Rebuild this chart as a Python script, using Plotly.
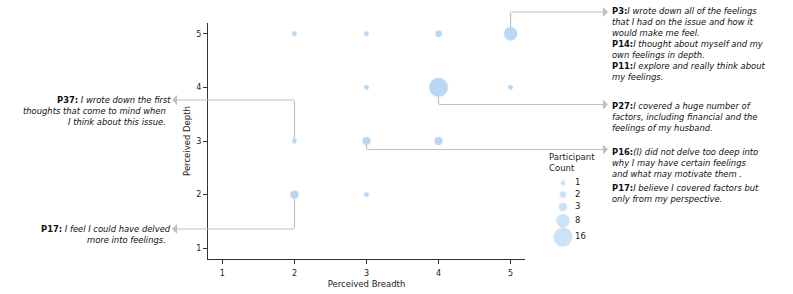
import plotly.graph_objects as go

# ---------------- data ----------------
breadth = [2, 3, 4, 5, 3, 4, 5, 2, 3, 4, 2, 3]
depth = [5, 5, 5, 5, 4, 4, 4, 3, 3, 3, 2, 2]
count = [1, 1, 2, 8, 1, 16, 1, 1, 3, 3, 3, 1]

legend_counts = [1, 2, 3, 8, 16]
x_ticks = [1, 2, 3, 4, 5]
y_ticks = [1, 2, 3, 4, 5]

# callouts: anchor point (breadth, depth) and quote lines
callout_anchor_b = [5, 4, 3, 2, 2]
callout_anchor_d = [5, 4, 3, 3, 2]
callout_side = ["right", "right", "right", "left", "left"]
callout_quotes = [
    [("P3:", ["I wrote down all of the feelings", "that I had on the issue and how it", "would make me feel."]),
     ("P14:", ["I thought about myself and my", "own feelings in depth."]),
     ("P11:", ["I explore and really think about", "my feelings."])],
    [("P27:", ["I covered a huge number of", "factors, including financial and the", "feelings of my husband."])],
    [("P16:", ["(I) did not delve too deep into", "why I may have certain feelings", "and what may motivate them ."]),
     ("P17:", ["I believe I covered factors but", "only from my perspective."])],
    [("P37:", [" I wrote down the first", "thoughts that come to mind when", "I think about this issue."])],
    [("P17:", [" I feel I could have delved", "more into feelings."])],
]

# ---------------- layout geometry (screen pixels) ----------------
FIG_W, FIG_H = 793, 294
PL, PR, PT, PB = 208, 525, 23, 259
XR = [0.8, 5.2]
YR = [0.8, 5.2]
FONT = "DejaVu Sans"
BLUE = "rgb(183,215,242)"
EDGE = "rgb(214,231,247)"
GRAY = "#c0c0c0"
SIZEREF = 2 * 16 / 19.0 ** 2
LINE_STEP = 11


def px2paper_x(X):
    return X / FIG_W


def px2paper_y(Y):
    return 1 - Y / FIG_H


def sx(v):
    return PL + (v - XR[0]) / (XR[1] - XR[0]) * (PR - PL)


def sy(v):
    return PB - (v - YR[0]) / (YR[1] - YR[0]) * (PB - PT)


def diam(c):
    return (2 * c / SIZEREF) ** 0.5


# connector elbows (screen y), arrow tip (screen x), text placement
elbow_y = [12, 104.5, 149.5, 100, 229]
tip_x = [608, 608, 608, 172, 172]
text_x = [611, 611, 611, 166.5, 166.5]
first_line_x = [611, 611, 611, 172, 172]
quote_y0 = [[11, 44, 66], [106], [151.5, 188], [100], [229]]

fig = go.Figure()

fig.add_trace(go.Scatter(
    x=breadth, y=depth, mode="markers",
    marker=dict(size=count, sizemode="area", sizeref=SIZEREF, color=BLUE,
                line=dict(width=0.6, color=EDGE), opacity=1),
    showlegend=False, hoverinfo="skip", xaxis="x", yaxis="y",
))

# ----- size legend drawn on its own small axes (screen-pixel units) -----
lg_d = [diam(c) for c in legend_counts]
lg_y = [183.0]
for i in range(1, len(lg_d)):
    lg_y.append(lg_y[-1] + 9 + 0.45 * (lg_d[i - 1] + lg_d[i]) / 2)

fig.add_trace(go.Scatter(
    x=[563] * len(legend_counts), y=lg_y, mode="markers",
    marker=dict(size=legend_counts, sizemode="area", sizeref=SIZEREF, color=BLUE,
                line=dict(width=0.6, color=EDGE)),
    showlegend=False, hoverinfo="skip", xaxis="x2", yaxis="y2", cliponaxis=False,
))
fig.add_trace(go.Scatter(
    x=[575] * len(legend_counts), y=lg_y, mode="text",
    text=[str(c) for c in legend_counts], textposition="middle right",
    textfont=dict(family=FONT, size=8.5, color="#222"),
    showlegend=False, hoverinfo="skip", xaxis="x2", yaxis="y2", cliponaxis=False,
))

annotations = []
annotations.append(dict(
    xref="paper", yref="paper", x=px2paper_x(547), y=px2paper_y(163),
    xanchor="left", yanchor="middle", align="left", showarrow=False,
    text="Participant<br>Count", font=dict(family=FONT, size=8.5, color="#222"),
))

for i in range(len(callout_anchor_b)):
    b, d = callout_anchor_b[i], callout_anchor_d[i]
    px, py = sx(b), sy(d)
    r = diam(count[[j for j in range(len(breadth)) if breadth[j] == b and depth[j] == d][0]]) / 2
    ey = elbow_y[i]
    # vertical segment from marker edge to elbow
    annotations.append(dict(
        xref="x", yref="y", x=b, y=d, text="", font=dict(size=1),
        showarrow=True, arrowhead=0, arrowwidth=1.2, arrowcolor=GRAY,
        ax=0, ay=ey - py, standoff=r, borderpad=0,
    ))
    # horizontal segment with arrow head at the quote
    annotations.append(dict(
        xref="x", yref="y", x=b, y=d, text="", font=dict(size=1),
        xshift=tip_x[i] - px, yshift=py - ey,
        showarrow=True, arrowhead=1, arrowsize=1.4, arrowwidth=1.2, arrowcolor=GRAY,
        ax=px - tip_x[i], ay=0, standoff=0, borderpad=0,
    ))
    side = callout_side[i]
    for k, (who, lines) in enumerate(callout_quotes[i]):
        for n, ln in enumerate(lines):
            html = ("<b>%s</b>" % who if n == 0 else "") + "<i>%s</i>" % ln
            xx = first_line_x[i] if (k == 0 and n == 0) else text_x[i]
            annotations.append(dict(
                xref="paper", yref="paper", x=px2paper_x(xx),
                y=px2paper_y(quote_y0[i][k] + n * LINE_STEP),
                xanchor="left" if side == "right" else "right", yanchor="middle",
                align="left" if side == "right" else "right", showarrow=False,
                borderpad=0,
                text=html, font=dict(family=FONT, size=8.4, color="#111"),
            ))

axis_common = dict(
    showgrid=False, zeroline=False, showline=True, linecolor="#333", linewidth=1,
    ticks="outside", ticklen=4, tickwidth=1, tickcolor="#333",
    tickfont=dict(family=FONT, size=8, color="#222"), automargin=False,
)

fig.update_layout(
    width=FIG_W, height=FIG_H,
    margin=dict(l=0, r=0, t=0, b=0),
    paper_bgcolor="white", plot_bgcolor="white",
    font=dict(family=FONT, color="#222"),
    hovermode=False,
    xaxis=dict(domain=[px2paper_x(PL), px2paper_x(PR)], range=XR, tickvals=x_ticks,
               ticklabelstandoff=2,
               title=dict(text="Perceived Breadth", font=dict(family=FONT, size=8.5), standoff=4),
               anchor="y", **axis_common),
    yaxis=dict(domain=[px2paper_y(PB), px2paper_y(PT)], range=YR, tickvals=y_ticks,
               title=dict(text="Perceived Depth", font=dict(family=FONT, size=8.5), standoff=4),
               anchor="x", **axis_common),
    xaxis2=dict(domain=[px2paper_x(540), px2paper_x(640)], range=[540, 640], visible=False,
                anchor="y2", fixedrange=True),
    yaxis2=dict(domain=[px2paper_y(250), px2paper_y(175)], range=[250, 175], visible=False,
                anchor="x2", fixedrange=True),
    annotations=annotations,
    showlegend=False,
)

fig.write_html(
    "out.html",
    config={"displayModeBar": False, "staticPlot": True},
    post_script="document.body.style.margin='0';document.documentElement.style.overflow='hidden';",
)
